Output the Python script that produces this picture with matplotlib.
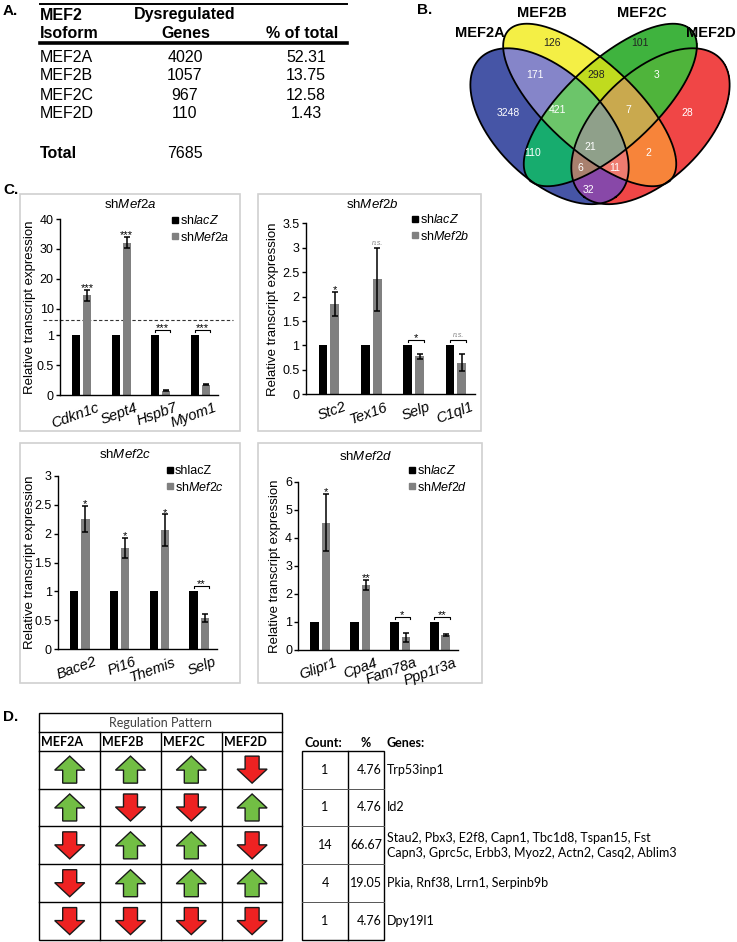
import numpy as np
import matplotlib
matplotlib.use("Agg")
import matplotlib.pyplot as plt
from matplotlib.patches import Polygon, Rectangle
from matplotlib.lines import Line2D
from matplotlib.colors import to_rgba
from matplotlib.ticker import FormatStrFormatter
from matplotlib.transforms import ScaledTranslation

plt.rcParams["font.family"] = ["Liberation Sans", "DejaVu Sans"]
plt.rcParams["mathtext.fontset"] = "custom"
plt.rcParams["mathtext.rm"] = "Liberation Sans"
plt.rcParams["mathtext.it"] = "Liberation Sans:italic"
plt.rcParams["mathtext.bf"] = "Liberation Sans:bold"

W, H = 737, 942

# --- A: dysregulated genes per isoform ---
isoforms = ["MEF2A", "MEF2B", "MEF2C", "MEF2D"]
dysregulated = [4020, 1057, 967, 110]
pct_total = ["52.31", "13.75", "12.58", "1.43"]
total_genes = 7685

# --- B: venn regions (membership in A,B,C,D) and counts ---
venn_sets = ["MEF2A", "MEF2B", "MEF2C", "MEF2D"]
venn_regions = ["1000", "0100", "0010", "0001", "1100", "0110", "0011",
                "1110", "0111", "1111", "1010", "0101", "1011", "1101", "1001"]
venn_counts = [3248, 126, 101, 28, 171, 298, 3, 421, 7, 21, 110, 2, 6, 11, 32]

# --- C: qPCR ---
ctrl = [1, 1, 1, 1]
mef2a_genes = ["Cdkn1c", "Sept4", "Hspb7", "Myom1"]
mef2a_kd = [14.5, 32.1, 0.07, 0.17]
mef2a_err = [1.7, 1.8, 0.01, 0.01]
mef2a_sig = ["***", "***", "***", "***"]

mef2b_genes = ["Stc2", "Tex16", "Selp", "C1ql1"]
mef2b_kd = [1.85, 2.35, 0.78, 0.65]
mef2b_err = [0.25, 0.64, 0.055, 0.17]
mef2b_sig = ["*", "n.s.", "*", "n.s."]

mef2c_genes = ["Bace2", "Pi16", "Themis", "Selp"]
mef2c_kd = [2.25, 1.75, 2.06, 0.54]
mef2c_err = [0.23, 0.18, 0.27, 0.07]
mef2c_sig = ["*", "*", "*", "**"]

mef2d_genes = ["Glipr1", "Cpa4", "Fam78a", "Ppp1r3a"]
mef2d_kd = [4.55, 2.32, 0.45, 0.535]
mef2d_err = [1.03, 0.18, 0.16, 0.03]
mef2d_sig = ["*", "**", "*", "**"]

# --- D: regulation patterns (1 up, -1 down) ---
pattern_cols = ["MEF2A", "MEF2B", "MEF2C", "MEF2D"]
patterns = [[1, 1, 1, -1],
            [1, -1, -1, 1],
            [-1, 1, 1, -1],
            [-1, 1, 1, 1],
            [-1, -1, -1, -1]]
pattern_count = [1, 1, 14, 4, 1]
pattern_pct = ["4.76", "4.76", "66.67", "19.05", "4.76"]
pattern_genes = ["Trp53inp1",
                 "Id2",
                 "Stau2, Pbx3, E2f8, Capn1, Tbc1d8, Tspan15, Fst\n"
                 "Capn3, Gprc5c, Erbb3, Myoz2, Actn2, Casq2, Ablim3",
                 "Pkia, Rnf38, Lrrn1, Serpinb9b",
                 "Dpy19l1"]

fig = plt.figure(figsize=(W / 100, H / 100), dpi=100)
ov = fig.add_axes([0, 0, 1, 1])
ov.axis("off")


def px_ax(x0, y0, x1, y1):
    return fig.add_axes([x0 / W, 1 - y1 / H, (x1 - x0) / W, (y1 - y0) / H])


# panel letters
for lab, (x, y) in zip("ABCD", [(3, 11), (417, 10), (3, 190), (3, 717)]):
    ov.text(x, y, lab + ".", fontsize=11, fontweight="bold", va="center")

# ---------------- A ----------------
ov.plot([40, 347], [4, 4], color="black", lw=1.4)
ov.plot([40, 347], [43, 43], color="black", lw=2.6)
fa = 11.5
ov.text(40, 15, "MEF2", fontsize=fa, fontweight="bold", va="center")
ov.text(40, 34, "Isoform", fontsize=fa, fontweight="bold", va="center")
ov.text(185, 15, "Dysregulated", fontsize=fa, fontweight="bold", va="center", ha="center")
ov.text(186, 34, "Genes", fontsize=fa, fontweight="bold", va="center", ha="center")
ov.text(302, 34, "% of total", fontsize=fa, fontweight="bold", va="center", ha="center")
for i, (iso, n, p) in enumerate(zip(isoforms, dysregulated, pct_total)):
    y = 57 + i * 19
    ov.text(40, y, iso, fontsize=fa, va="center")
    ov.text(185, y, str(n), fontsize=fa, va="center", ha="center")
    ov.text(306, y, p, fontsize=fa, va="center", ha="center")
ov.text(40, 153, "Total", fontsize=fa, fontweight="bold", va="center")
ov.text(185, 153, str(total_genes), fontsize=fa, va="center", ha="center")

# ---------------- B ----------------
# ellipses in a model frame, then stretched onto the pixel frame
ells = [(548, 120, 100, 55, 50), (587, 97, 113, 45, 46.8),
        (607, 97, 113, 45, 133.2), (646, 120, 100, 55, 130)]
mx0, my0, px0, sx, sy = 597, 202, 600, 1.03, 0.924
region_colors = {"1000": "#4655A6", "0100": "#F4EF45", "0010": "#3FB33E", "0001": "#F04646",
                 "1100": "#8585C9", "0110": "#C0DB1E", "0011": "#4FB43B", "1110": "#6CC56A",
                 "0111": "#C9A94E", "1111": "#8FA08A", "1010": "#17AC6E", "0101": "#F7843A",
                 "1011": "#A9806E", "1101": "#EE7B6F", "1001": "#8848A8"}
label_pos = {"1000": (508, 113), "0100": (552, 43), "0010": (640, 43), "0001": (687, 113),
             "1100": (535, 75), "0110": (596, 75), "0011": (657, 75), "1110": (558, 110),
             "0111": (628, 110), "1111": (590, 147), "1010": (533, 153), "0101": (648, 153),
             "1011": (580, 168), "1101": (615, 168), "1001": (588, 190)}
dark_labels = {"0100", "0010", "0110"}

xs = np.arange(455, 740, 0.5) + 0.25
ys = np.arange(0, 215, 0.5) + 0.25
X, Y = np.meshgrid(xs, ys)
XM = mx0 + (X - px0) / sx
YM = my0 + (Y - my0) / sy
inside = []
for cx, cy, a, b, ang in ells:
    t = np.deg2rad(ang)
    u = (XM - cx) * np.cos(t) + (YM - cy) * np.sin(t)
    v = -(XM - cx) * np.sin(t) + (YM - cy) * np.cos(t)
    inside.append((u / a) ** 2 + (v / b) ** 2 <= 1)
img = np.zeros(X.shape + (4,))
for key in venn_regions:
    m = np.ones(X.shape, bool)
    for k, ch in enumerate(key):
        m &= inside[k] == (ch == "1")
    img[m] = to_rgba(region_colors[key])
ov.imshow(img, extent=(455, 740, 215, 0), origin="upper", interpolation="nearest")
tt = np.linspace(0, 2 * np.pi, 400)
for cx, cy, a, b, ang in ells:
    p = np.deg2rad(ang)
    xm = cx + a * np.cos(tt) * np.cos(p) - b * np.sin(tt) * np.sin(p)
    ym = cy + a * np.cos(tt) * np.sin(p) + b * np.sin(tt) * np.cos(p)
    ov.plot(px0 + (xm - mx0) * sx, my0 + (ym - my0) * sy, color="black", lw=1.3)
for key, n in zip(venn_regions, venn_counts):
    x, y = label_pos[key]
    ov.text(x, y, str(n), fontsize=7.5, ha="center", va="center",
            color="#222222" if key in dark_labels else "white")
for name, (x, y), ha in zip(venn_sets, [(480, 33), (542, 13), (642, 13), (736, 33)],
                            ["center", "center", "center", "right"]):
    ov.text(x, y, name, fontsize=10.5, fontweight="bold", ha=ha, va="center")

# ---------------- C ----------------
for x0, y0, x1, y1 in [(20, 194, 240, 431), (258, 194, 481, 431),
                       (20, 443, 240, 683), (258, 443, 482, 683)]:
    ov.add_patch(Rectangle((x0, y0), x1 - x0, y1 - y0, fill=False, ec="#D0D0D0", lw=1.2))


def style(ax, ylim, yticks, bottom=True):
    ax.set_xlim(-0.55, 3.45)
    ax.set_ylim(*ylim)
    ax.set_yticks(yticks)
    ax.yaxis.set_major_formatter(FormatStrFormatter("%g"))
    for s in ["top", "right"]:
        ax.spines[s].set_visible(False)
    ax.spines["left"].set_linewidth(1.0)
    ax.spines["bottom"].set_linewidth(1.0)
    ax.spines["bottom"].set_visible(bottom)
    ax.tick_params(axis="y", direction="out", length=3, width=1, labelsize=9, pad=1.5)
    ax.tick_params(axis="x", length=0, pad=4)
    ax.patch.set_visible(False)


def draw_bars(ax, kd, err):
    x = np.arange(len(kd))
    ax.bar(x - 0.14, ctrl, width=0.21, color="black")
    ax.bar(x + 0.14, kd, width=0.21, color="#808080")
    ax.errorbar(x + 0.14, kd, yerr=err, fmt="none", ecolor="black",
                elinewidth=1.1, capsize=2.2, capthick=1.1)


def mark_sig(ax, i, kd, err, s, ppu):
    ns = s == "n.s."
    kw = dict(fontsize=5, color="#808080", style="italic") if ns else dict(fontsize=8)
    if kd > 1:
        x, y = i + 0.14, kd + err
    else:
        yb = 1 + 5.5 / ppu
        tk = 2.5 / ppu
        ax.plot([i - 0.14, i - 0.14, i + 0.245, i + 0.245], [yb - tk, yb, yb, yb - tk],
                color="black", lw=0.8, clip_on=False)
        x, y = i + 0.05, yb
    ax.annotate(s, (x, y), xytext=(0, 1 if ns else -0.8), textcoords="offset points",
                ha="center", va="bottom" if ns else "baseline", **kw)


def add_legend(ax, labels, x, y):
    handles = [Line2D([], [], marker="s", ls="none", color=c, markersize=3.8)
               for c in ("black", "#808080")]
    ax.legend(handles, labels, loc="upper left", bbox_to_anchor=(x / W, 1 - y / H),
              bbox_transform=fig.transFigure, frameon=False, fontsize=9,
              handlelength=0.5, handletextpad=0.15, labelspacing=0.3,
              borderpad=0, borderaxespad=0)


def finish(ax, genes, title, tx, ty, lx, ly):
    ax.set_xticks(range(len(genes)))
    labs = ax.set_xticklabels(genes, rotation=20, fontstyle="italic", fontsize=10.5,
                              ha="right", va="top", rotation_mode="anchor")
    shift = ScaledTranslation(0.14, 0, fig.dpi_scale_trans)
    for lb in labs:
        lb.set_transform(lb.get_transform() + shift)
    fig.text(tx / W, 1 - ty / H, title, fontsize=9.5, ha="center", va="center")
    fig.text(lx / W, 1 - ly / H, "Relative transcript expression", rotation=90,
             fontsize=9.5, ha="center", va="center")


# shMef2a: broken axis
axa_top = px_ax(60, 219, 218, 320)
axa_bot = px_ax(60, 320, 218, 395)
for ax in (axa_top, axa_bot):
    draw_bars(ax, mef2a_kd, mef2a_err)
style(axa_top, (6.33, 40), [10, 20, 30, 40], bottom=False)
axa_top.set_xticks([])
style(axa_bot, (0, 1.25), [0, 0.5, 1])
for i, (k, e, s) in enumerate(zip(mef2a_kd, mef2a_err, mef2a_sig)):
    mark_sig(axa_top if k > 1.25 else axa_bot, i, k, e, s, 60)
ov.plot([43, 233], [320, 320], color="#333333", lw=0.8, ls=(0, (3, 2)))
finish(axa_bot, mef2a_genes, r"sh$\mathit{Mef2a}$", 130, 204, 30, 307)
add_legend(axa_top, [r"sh$\mathit{lacZ}$", r"sh$\mathit{Mef2a}$"], 172, 214)

# shMef2b
axb = px_ax(305.7, 223.3, 475, 394.3)
draw_bars(axb, mef2b_kd, mef2b_err)
style(axb, (0, 3.5), np.arange(0, 3.51, 0.5))
for i, (k, e, s) in enumerate(zip(mef2b_kd, mef2b_err, mef2b_sig)):
    mark_sig(axb, i, k, e, s, 48.9)
finish(axb, mef2b_genes, r"sh$\mathit{Mef2b}$", 372, 204, 273, 309)
add_legend(axb, [r"sh$\mathit{lacZ}$", r"sh$\mathit{Mef2b}$"], 412, 213)

# shMef2c
axc = px_ax(58, 475.7, 217, 649.3)
draw_bars(axc, mef2c_kd, mef2c_err)
style(axc, (0, 3), np.arange(0, 3.01, 0.5))
for i, (k, e, s) in enumerate(zip(mef2c_kd, mef2c_err, mef2c_sig)):
    mark_sig(axc, i, k, e, s, 57.9)
finish(axc, mef2c_genes, r"sh$\mathit{Mef2c}$", 125, 455, 30, 562)
add_legend(axc, ["shlacZ", r"sh$\mathit{Mef2c}$"], 167, 465)

# shMef2d
axd = px_ax(298.3, 482, 458, 650)
draw_bars(axd, mef2d_kd, mef2d_err)
style(axd, (0, 6), range(0, 7))
for i, (k, e, s) in enumerate(zip(mef2d_kd, mef2d_err, mef2d_sig)):
    mark_sig(axd, i, k, e, s, 28)
finish(axd, mef2d_genes, r"sh$\mathit{Mef2d}$", 366, 457, 275, 566)
add_legend(axd, [r"sh$\mathit{lacZ}$", r"sh$\mathit{Mef2d}$"], 409, 464)

# ---------------- D ----------------
fd = dict(family=["Lato", "DejaVu Sans"], fontsize=9)
tl, cw = 39.3, 60.8
t0, t1, t2 = 712.7, 731.7, 750.7
rh = 37.86
nrow = len(patterns)
tb = t2 + nrow * rh
lw_t = 1.0
ov.add_patch(Rectangle((tl, t0), 4 * cw, tb - t0, fill=False, ec="black", lw=lw_t))
for y in [t1, t2] + [t2 + r * rh for r in range(1, nrow)]:
    ov.plot([tl, tl + 4 * cw], [y, y], color="black", lw=lw_t)
for c in range(1, 4):
    ov.plot([tl + c * cw] * 2, [t1, tb], color="black", lw=lw_t)
ov.text(tl + 2 * cw, (t0 + t1) / 2 + 0.5, "Regulation Pattern", ha="center", va="center",
        color="#404040", **fd)
for c, name in enumerate(pattern_cols):
    ov.text(tl + c * cw + 2, (t1 + t2) / 2 + 0.5, name, ha="left", va="center",
            fontweight="bold", **fd)

# up-arrow outline in pixels (y grows downward); flipped for down
shape = np.array([(0, -13.5), (15, 0.5), (7, 0.5), (7, 13.5), (-7, 13.5), (-7, 0.5), (-15, 0.5)])
for r, row in enumerate(patterns):
    cy = t2 + (r + 0.5) * rh
    for c, d in enumerate(row):
        cx = tl + (c + 0.5) * cw
        pts = shape * np.array([1, d]) + np.array([cx, cy])
        ov.add_patch(Polygon(pts, closed=True, fc="#72BE44" if d > 0 else "#EE2222",
                             ec="#1A1A1A", lw=1.0))

rx0, rx1, rx2 = 301.7, 348.3, 384
ov.add_patch(Rectangle((rx0, t2), rx2 - rx0, tb - t2, fill=False, ec="black", lw=lw_t))
ov.plot([rx1, rx1], [t2, tb], color="black", lw=lw_t)
for r in range(1, nrow):
    y = t2 + r * rh
    ov.plot([rx0, rx2], [y, y], color="#555555", lw=0.7)
hy = 743
ov.text(rx0 + 3, hy, "Count:", ha="left", va="center", fontweight="bold", **fd)
ov.text(366, hy, "%", ha="center", va="center", fontweight="bold", **fd)
ov.text(387, hy, "Genes:", ha="left", va="center", fontweight="bold", **fd)
for r, (n, p, g) in enumerate(zip(pattern_count, pattern_pct, pattern_genes)):
    cy = t2 + (r + 0.5) * rh
    ov.text((rx0 + rx1) / 2, cy, str(n), ha="center", va="center", **fd)
    ov.text(rx2 - 2, cy, p, ha="right", va="center", **fd)
    ov.text(rx2 + 3, cy, g, ha="left", va="center", linespacing=1.35, **fd)

ov.set_aspect("auto")
ov.set_xlim(0, W)
ov.set_ylim(H, 0)

fig.savefig("out.png", dpi=100)
